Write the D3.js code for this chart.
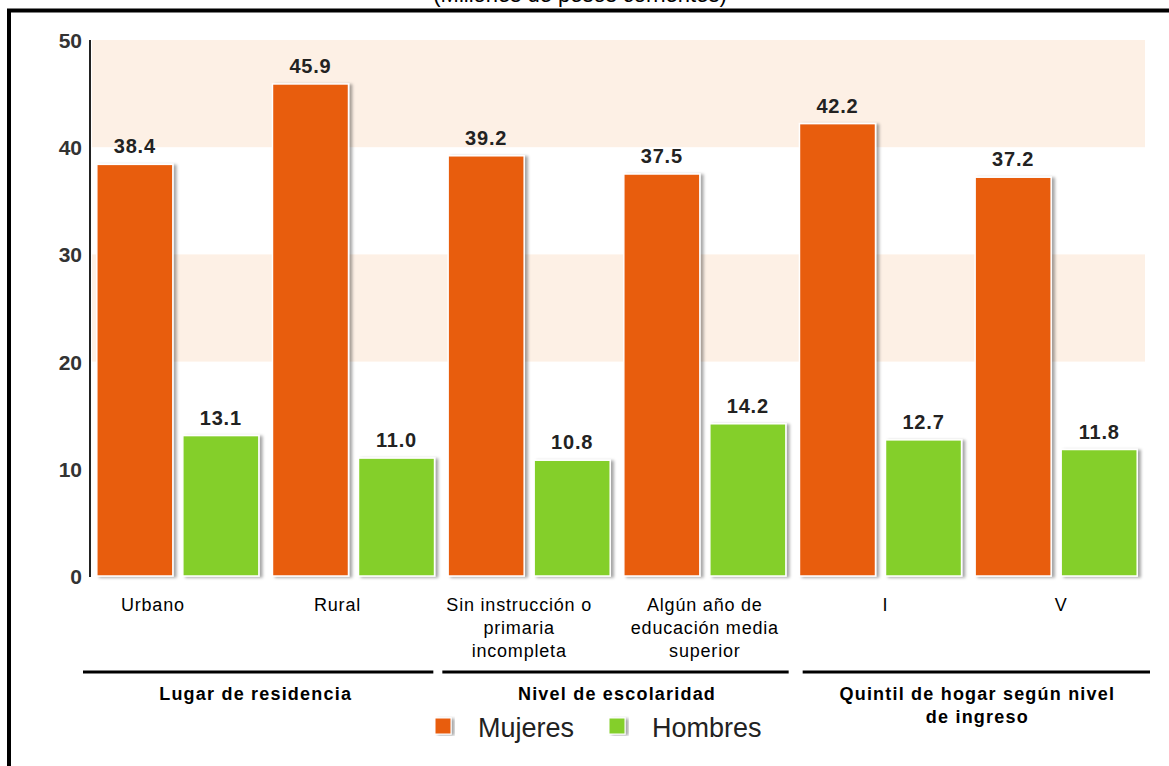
<!DOCTYPE html>
<html>
<head>
<meta charset="utf-8">
<script src="https://cdn.jsdelivr.net/npm/d3@7/dist/d3.min.js"></script>
<style>
  html, body { margin: 0; padding: 0; background: #ffffff; }
  svg { display: block; font-family: Arial, "Liberation Sans", sans-serif; }
</style>
</head>
<body>
<div id="chart"></div>
<script>
// data
const categories = ["Urbano", "Rural", "Sin instrucción o|primaria|incompleta",
                    "Algún año de|educación media|superior", "I", "V"];
const seriesNames = ["Mujeres", "Hombres"];
const mujeres = [38.4, 45.9, 39.2, 37.5, 42.2, 37.2];
const hombres = [13.1, 11.0, 10.8, 14.2, 12.7, 11.8];
const yTicks = [0, 10, 20, 30, 40, 50];
const bandRanges = [[20, 30], [40, 50]];
const groupTitles = ["Lugar de residencia", "Nivel de escolaridad", "Quintil de hogar según nivel|de ingreso"];
const groupSpans = [[0, 1], [2, 3], [4, 5]];

const colors = {Mujeres: "#e85d10", Hombres: "#84cf2a"};
const W = 1169, H = 766;
const plotLeft = 90, plotRight = 1144, plotTop = 40, plotBottom = 576;
const labelShift = [-25, -16, -10, 0, 5, 5];
const titleShift = [-10, 0, 9];
const sepInset = [[-7, 8], [1, 4], [10, -6]];

const svg = d3.select("#chart").append("svg")
    .attr("width", W)
    .attr("height", H);

const defs = svg.append("defs");
const shadow = defs.append("filter").attr("id", "shadow")
    .attr("x", "-10%").attr("y", "-10%").attr("width", "130%").attr("height", "120%");
shadow.append("feDropShadow")
    .attr("dx", 3).attr("dy", 1).attr("stdDeviation", 1.6)
    .attr("flood-color", "#000").attr("flood-opacity", 0.35);

// title, mostly cut at the top edge as in the source
svg.append("text")
    .text("(Millones de pesos corrientes)")
    .attr("x", 580).attr("y", 2)
    .attr("text-anchor", "middle")
    .style("font-size", "22px")
    .attr("fill", "#000");

// frame
svg.append("rect")
    .attr("x", 9).attr("y", 10.5)
    .attr("width", W + 20).attr("height", H + 20)
    .attr("fill", "none")
    .attr("stroke", "#000")
    .attr("stroke-width", 4);

const y = d3.scaleLinear().domain([0, 50]).range([plotBottom, plotTop]);
const x = d3.scaleBand().domain(categories).range([plotLeft, plotRight]).padding(0);
const xs = d3.scaleBand().domain(seriesNames).range([0, x.bandwidth()])
    .paddingInner(0.116).paddingOuter(0.079);

// background bands
svg.selectAll("rect.band").data(bandRanges).enter().append("rect")
    .attr("class", "band")
    .attr("x", plotLeft + 2)
    .attr("width", plotRight - plotLeft - 1)
    .attr("y", d => y(d[1]))
    .attr("height", d => y(d[0]) - y(d[1]))
    .attr("fill", "#fdf0e5");

// bars
const rows = categories.map((c, i) => ({cat: c, values: [
    {name: "Mujeres", v: mujeres[i]}, {name: "Hombres", v: hombres[i]}]}));

const grp = svg.selectAll("g.cat").data(rows).enter().append("g")
    .attr("class", "cat")
    .attr("transform", d => "translate(" + x(d.cat) + ",0)");

grp.selectAll("rect").data(d => d.values).enter().append("rect")
    .attr("x", d => xs(d.name))
    .attr("width", xs.bandwidth())
    .attr("y", d => y(d.v))
    .attr("height", d => y(0) - y(d.v))
    .attr("fill", d => colors[d.name])
    .attr("stroke", "#ffffff")
    .attr("stroke-width", 1.5)
    .attr("filter", "url(#shadow)");

grp.selectAll("text.val").data(d => d.values).enter().append("text")
    .attr("class", "val")
    .text(d => d.v.toFixed(1))
    .attr("x", d => xs(d.name) + xs.bandwidth() / 2)
    .attr("y", d => y(d.v) - 11)
    .attr("text-anchor", "middle")
    .style("font-size", "20px")
    .style("font-weight", "bold")
    .style("letter-spacing", "0.8px")
    .attr("fill", "#222");

// axes
svg.append("line")
    .attr("x1", plotLeft).attr("x2", plotLeft)
    .attr("y1", y(50)).attr("y2", y(0) + 1)
    .attr("stroke", "#222").attr("stroke-width", 2);
svg.append("line")
    .attr("x1", plotLeft - 1).attr("x2", plotRight)
    .attr("y1", y(0) + 1).attr("y2", y(0) + 1)
    .attr("stroke", "#333").attr("stroke-width", 3)
    .attr("filter", "url(#shadow)");

svg.selectAll("text.ytick").data(yTicks).enter().append("text")
    .attr("class", "ytick")
    .text(d => d)
    .attr("x", plotLeft - 8)
    .attr("y", d => y(d) + 8)
    .attr("text-anchor", "end")
    .style("font-size", "21px")
    .style("font-weight", "bold")
    .attr("fill", "#333");

// category labels
const catLabels = svg.selectAll("text.cat").data(categories).enter().append("text")
    .attr("class", "cat")
    .attr("text-anchor", "middle")
    .style("font-size", "18px")
    .style("letter-spacing", "0.8px")
    .attr("fill", "#000")
    .attr("transform", (d, i) => "translate(" + (x(d) + x.bandwidth() / 2 + labelShift[i]) + ",611)");
catLabels.selectAll("tspan").data(d => d.split("|")).enter().append("tspan")
    .attr("x", 0)
    .attr("dy", (d, i) => i === 0 ? 0 : 23)
    .text(d => d);

// group separators and titles
groupTitles.forEach((t, i) => {
    const x0 = x(categories[groupSpans[i][0]]);
    const x1 = x(categories[groupSpans[i][1]]) + x.bandwidth();
    svg.append("line")
        .attr("x1", x0 + sepInset[i][0]).attr("x2", x1 - sepInset[i][1])
        .attr("y1", 672).attr("y2", 672)
        .attr("stroke", "#000").attr("stroke-width", 3);
    const tt = svg.append("text")
        .attr("text-anchor", "middle")
        .style("font-size", "18px")
        .style("font-weight", "bold")
        .style("letter-spacing", "1.2px")
        .attr("fill", "#000")
        .attr("transform", "translate(" + ((x0 + x1) / 2 + titleShift[i]) + ",700)");
    tt.selectAll("tspan").data(t.split("|")).enter().append("tspan")
        .attr("x", 0)
        .attr("dy", (d, j) => j === 0 ? 0 : 23)
        .text(d => d);
});

// legend
const legend = svg.selectAll("g.leg").data(seriesNames).enter().append("g")
    .attr("class", "leg")
    .attr("transform", (d, i) => "translate(" + (435 + i * 174) + ",718)");
legend.append("rect")
    .attr("width", 16).attr("height", 16)
    .attr("fill", d => colors[d])
    .attr("stroke", "#fff").attr("stroke-width", 1)
    .attr("filter", "url(#shadow)");
legend.append("text")
    .text(d => d)
    .attr("x", 43).attr("y", 19)
    .style("font-size", "27px")
    .attr("fill", "#222");
</script>
</body>
</html>
